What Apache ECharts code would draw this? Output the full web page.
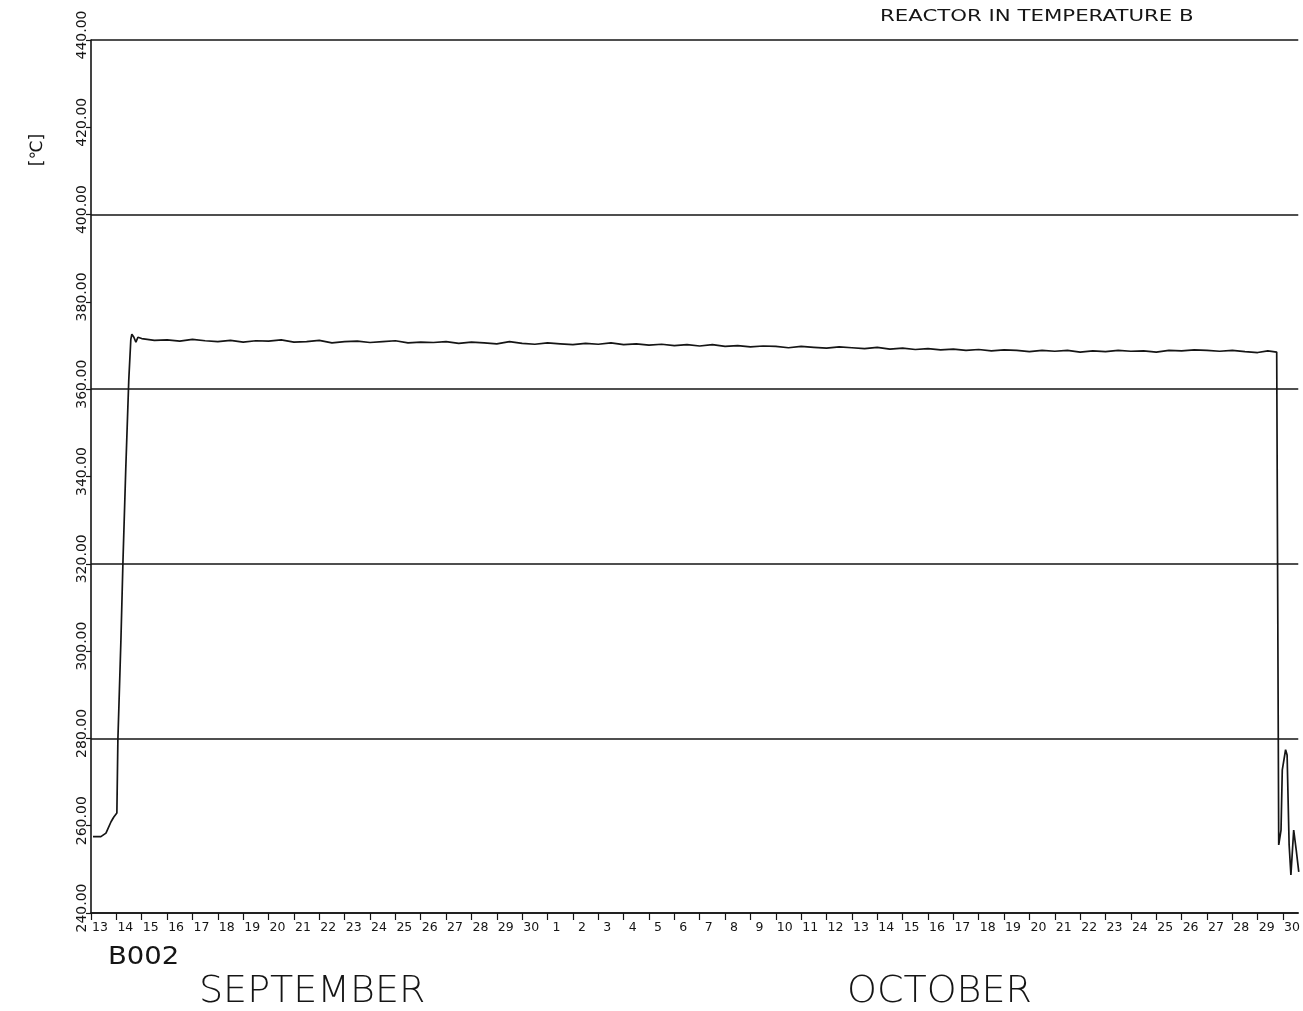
<!DOCTYPE html>
<html>
<head>
<meta charset="utf-8">
<script src="https://cdn.jsdelivr.net/npm/echarts@6/dist/echarts.min.js"></script>
<style>
html,body{margin:0;padding:0;background:#fff;}
#c{width:1303px;height:1011px;}
</style>
</head>
<body>
<div id="c"></div>
<script>
// x tick labels: Sep 13 .. Sep 30, Oct 1 .. Oct 30 (one per day boundary)
const dayLabels = ["13","14","15","16","17","18","19","20","21","22","23","24","25","26","27","28","29","30",
  "1","2","3","4","5","6","7","8","9","10","11","12","13","14","15","16","17","18","19","20",
  "21","22","23","24","25","26","27","28","29","30"];

// time in days since Sep 13 00:00
const days = [0.08,0.39,0.59,0.79,0.90,1.02,1.06,1.18,1.26,1.37,1.49,1.57,1.61,1.69,1.77,1.85,1.92,
  2.0,2.5,3.0,3.5,4.0,4.5,5.0,5.5,6.0,6.5,7.0,7.5,8.0,8.5,9.0,9.5,10.0,10.5,11.0,11.5,
  12.0,12.5,13.0,13.5,14.0,14.5,15.0,15.5,16.0,16.5,17.0,17.5,18.0,18.5,19.0,19.5,
  20.0,20.5,21.0,21.5,22.0,22.5,23.0,23.5,24.0,24.5,25.0,25.5,26.0,26.5,27.0,27.5,
  28.0,28.5,29.0,29.5,30.0,30.5,31.0,31.5,32.0,32.5,33.0,33.5,34.0,34.5,35.0,35.5,
  36.0,36.5,37.0,37.5,38.0,38.5,39.0,39.5,40.0,40.5,41.0,41.5,42.0,42.5,43.0,43.5,
  44.0,44.5,45.0,45.5,46.0,46.4,46.75,
  46.83,46.92,46.97,47.10,47.16,47.24,47.31,47.42,47.52,47.62];

// reactor inlet temperature [°C]
const temps = [257.5,257.5,258.3,260.9,262.0,262.9,279.7,302.6,320.5,341.6,362.2,371.4,372.6,371.9,370.8,371.9,372.3,
  371.6,371.2,371.3,371.0,371.4,371.1,370.9,371.2,370.8,371.1,371.0,371.3,370.8,370.9,371.2,370.6,370.9,371.0,370.7,370.9,
  371.1,370.6,370.8,370.7,370.9,370.5,370.8,370.6,370.4,370.9,370.5,370.3,370.6,370.4,370.2,370.5,
  370.3,370.6,370.2,370.4,370.1,370.3,370.0,370.2,369.9,370.2,369.8,370.0,369.7,369.9,369.8,369.5,
  369.8,369.6,369.4,369.7,369.5,369.3,369.6,369.2,369.4,369.1,369.3,369.0,369.2,368.9,369.1,368.8,
  369.0,368.9,368.6,368.9,368.7,368.9,368.5,368.8,368.6,368.9,368.7,368.8,368.5,368.9,368.8,369.0,
  368.9,368.7,368.9,368.6,368.4,368.8,368.5,
  255.6,259.0,272.8,277.4,276.2,255.6,248.7,259.0,254.4,249.4];

const chart = echarts.init(document.getElementById('c'), null, {renderer:'canvas'});
const ink = '#151515';
const fam = '"DejaVu Sans", sans-serif';

chart.setOption({
  backgroundColor:'#fff',
  animation:false,
  grid:{left:91,right:0,top:40,bottom:98,containLabel:false},
  xAxis:{
    type:'value', min:0, max:47.6, interval:1,
    axisLine:{show:true,lineStyle:{color:ink,width:1.6}},
    axisTick:{show:true,length:7,lineStyle:{color:ink,width:1.2}},
    axisLabel:{
      show:true, margin:8, color:ink, fontSize:12.5, fontFamily:fam,
      padding:[0,0,0,18], showMaxLabel:false,
      formatter:function(v){
        if (Math.abs(v-Math.round(v))>1e-6) return '';
        const i=Math.round(v);
        return dayLabels[i]!==undefined?dayLabels[i]:'';
      }
    },
    splitLine:{show:false}
  },
  yAxis:[{
    type:'value', min:240, max:440, interval:20,
    axisLine:{show:true,lineStyle:{color:ink,width:1.6}},
    axisTick:{show:true,length:5,lineStyle:{color:ink,width:1.2}},
    axisLabel:{show:true,rotate:90,margin:2,color:ink,fontSize:14,fontFamily:fam,
      padding:[0,0,0,10],
      formatter:function(v){return v.toFixed(2);}},
    splitLine:{show:false}
  },{
    type:'value', min:240, max:440, interval:40, position:'left',
    axisLine:{show:false}, axisTick:{show:false}, axisLabel:{show:false},
    splitLine:{show:true,lineStyle:{color:ink,width:1.6}}
  }],
  graphic:[
    {type:'text', x:880, y:17, scaleX:1.33,
      style:{text:'REACTOR IN TEMPERATURE B', fontSize:16, fontFamily:fam, fill:ink, align:'left', verticalAlign:'middle'}},
    {type:'text', x:38, y:150, rotation:Math.PI/2,
      style:{text:'[℃]', fontSize:17, fontFamily:fam, fill:ink, align:'center', verticalAlign:'middle'}},
    {type:'text', x:108, y:957, scaleX:1.1,
      style:{text:'B002', fontSize:25, fontFamily:fam, fill:ink, align:'left', verticalAlign:'middle'}},
    {type:'text', x:199, y:992,
      style:{text:'SEPTEMBER', fontSize:38, fontFamily:fam, fontWeight:'lighter', fill:ink, align:'left', verticalAlign:'middle'}},
    {type:'text', x:847, y:992,
      style:{text:'OCTOBER', fontSize:38, fontFamily:fam, fontWeight:'lighter', fill:ink, align:'left', verticalAlign:'middle'}}
  ],
  series:[{
    type:'line', xAxisIndex:0, yAxisIndex:0,
    data: days.map(function(d,i){return [d,temps[i]];}),
    showSymbol:false, symbol:'none', smooth:false,
    lineStyle:{color:ink,width:1.7},
    clip:true
  }]
});
</script>
</body>
</html>
